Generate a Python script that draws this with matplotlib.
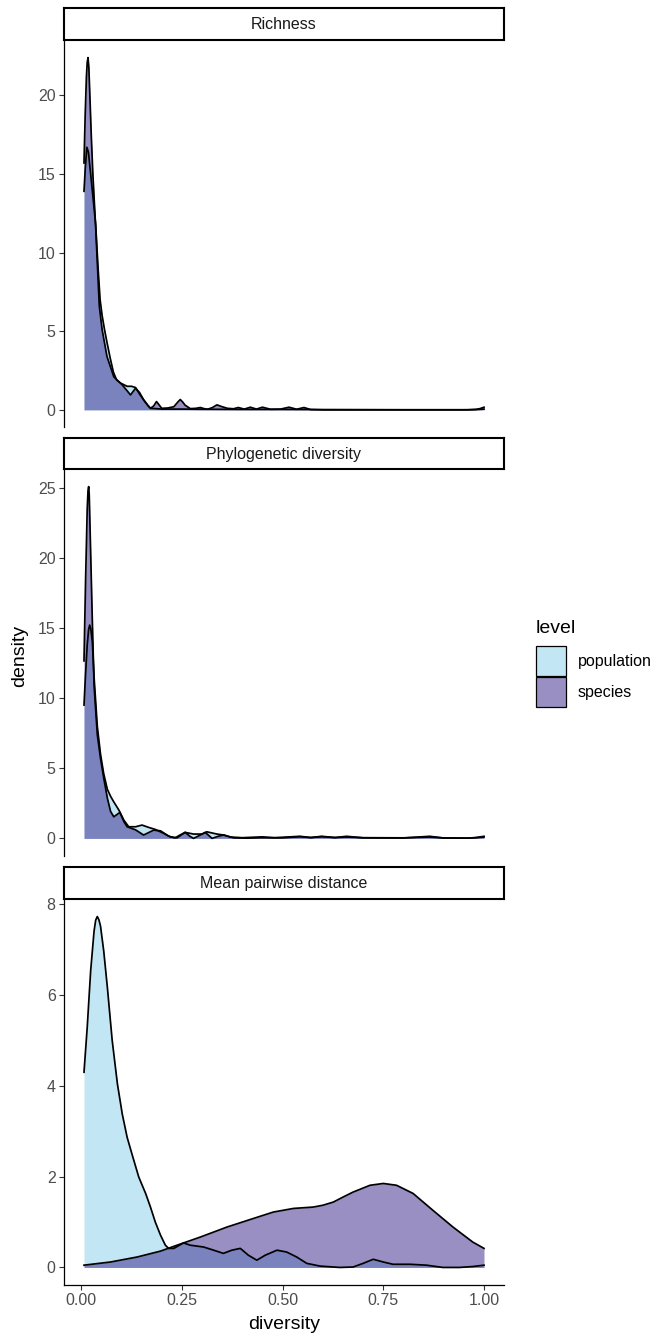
import numpy as np
import matplotlib
matplotlib.use("Agg")
import matplotlib.pyplot as plt
from matplotlib.patches import Patch

plt.rcParams['font.family'] = ['Liberation Sans', 'DejaVu Sans']

# ---- data (diversity vs. density) ----
rich_pop_x = [0.007, 0.010, 0.014, 0.018, 0.0235, 0.029, 0.036, 0.042, 0.047, 0.052, 0.058,
              0.064, 0.072, 0.080, 0.088, 0.098, 0.114, 0.125, 0.135, 0.145, 0.155, 0.165,
              0.172, 0.185, 0.20, 0.25, 0.30, 0.40, 0.50, 0.60, 0.80, 0.95, 0.98, 1.0]
rich_pop_y = [13.9, 15.3, 16.7, 16.4, 15.0, 13.6, 11.8, 9.0, 7.0, 6.0, 5.1,
              4.3, 3.3, 2.4, 1.9, 1.7, 1.5, 1.5, 1.42, 1.0, 0.64, 0.3,
              0.1, 0.08, 0.05, 0.05, 0.04, 0.03, 0.03, 0.02, 0.01, 0.01, 0.02, 0.05]

rich_sp_x = [0.007, 0.010, 0.013, 0.015, 0.017, 0.019, 0.021, 0.025, 0.029, 0.036, 0.045,
             0.052, 0.064, 0.081, 0.102, 0.1225, 0.135, 0.145, 0.155, 0.165, 0.172, 0.180,
             0.187, 0.194, 0.200, 0.215, 0.230, 0.240, 0.246, 0.252, 0.258, 0.271, 0.285,
             0.296, 0.305, 0.314, 0.326, 0.337, 0.350, 0.363, 0.378, 0.390, 0.405, 0.420,
             0.435, 0.450, 0.470, 0.495, 0.516, 0.535, 0.553, 0.570, 0.60, 0.70, 0.80, 0.90,
             0.96, 0.98, 0.99, 1.0]
rich_sp_y = [15.7, 18.8, 21.2, 22.1, 22.4, 21.8, 20.4, 17.5, 15.0, 11.6, 6.6,
             5.1, 3.4, 2.1, 1.59, 0.95, 1.38, 1.1, 0.64, 0.3, 0.1, 0.25,
             0.53, 0.3, 0.1, 0.12, 0.2, 0.5, 0.66, 0.5, 0.3, 0.08, 0.1,
             0.15, 0.08, 0.04, 0.15, 0.32, 0.2, 0.1, 0.07, 0.15, 0.05, 0.17,
             0.05, 0.17, 0.04, 0.05, 0.17, 0.04, 0.15, 0.02, 0.0, 0.0, 0.0, 0.0,
             0.0, 0.03, 0.08, 0.17]

phylo_pop_x = [0.007, 0.011, 0.015, 0.0185, 0.0211, 0.024, 0.0277, 0.032, 0.040, 0.048, 0.056,
               0.065, 0.073, 0.081, 0.094, 0.106, 0.118, 0.135, 0.151, 0.168, 0.184, 0.205,
               0.221, 0.238, 0.258, 0.279, 0.300, 0.312, 0.337, 0.354, 0.378, 0.411, 0.45,
               0.50, 0.543, 0.57, 0.597, 0.63, 0.659, 0.70, 0.80, 0.865, 0.90, 0.96, 0.98, 1.0]
phylo_pop_y = [9.5, 11.8, 13.8, 14.9, 15.2, 14.9, 14.0, 11.5, 8.0, 6.0, 4.6,
               3.5, 3.0, 2.6, 2.0, 1.3, 0.83, 0.83, 0.95, 0.78, 0.64, 0.36,
               0.11, 0.04, 0.43, 0.31, 0.31, 0.47, 0.31, 0.24, 0.04, 0.02, 0.05,
               0.04, 0.12, 0.06, 0.12, 0.06, 0.1, 0.05, 0.04, 0.1, 0.03, 0.02, 0.05, 0.1]

phylo_sp_x = [0.007, 0.011, 0.015, 0.017, 0.0186, 0.020, 0.0235, 0.0277, 0.032, 0.040, 0.048,
              0.056, 0.065, 0.073, 0.081, 0.096, 0.106, 0.114, 0.135, 0.155, 0.170, 0.180,
              0.197, 0.217, 0.233, 0.246, 0.258, 0.270, 0.279, 0.293, 0.308, 0.325, 0.340,
              0.354, 0.370, 0.40, 0.449, 0.48, 0.543, 0.57, 0.597, 0.63, 0.659, 0.70, 0.80,
              0.865, 0.90, 0.96, 0.98, 1.0]
phylo_sp_y = [12.65, 18.5, 23.5, 24.8, 25.07, 24.5, 20.4, 15.5, 10.9, 7.4, 5.7,
              4.3, 2.87, 1.92, 1.54, 1.85, 1.2, 0.83, 0.61, 0.24, 0.45, 0.59,
              0.54, 0.16, 0.04, 0.25, 0.43, 0.15, 0.0, 0.2, 0.43, 0.0, 0.15,
              0.24, 0.1, 0.05, 0.11, 0.05, 0.15, 0.06, 0.15, 0.06, 0.15, 0.04, 0.03,
              0.15, 0.03, 0.02, 0.06, 0.15]

mpd_pop_x = [0.007, 0.015, 0.0235, 0.032, 0.036, 0.040, 0.044, 0.048, 0.056, 0.065, 0.077,
             0.090, 0.102, 0.114, 0.127, 0.143, 0.160, 0.172, 0.184, 0.197, 0.209, 0.217,
             0.230, 0.254, 0.271, 0.304, 0.329, 0.353, 0.374, 0.395, 0.415, 0.436, 0.457,
             0.486, 0.510, 0.535, 0.560, 0.593, 0.642, 0.675, 0.700, 0.725, 0.750, 0.774,
             0.816, 0.857, 0.898, 0.939, 0.972, 1.0]
mpd_pop_y = [4.3, 5.29, 6.53, 7.41, 7.65, 7.73, 7.66, 7.52, 6.97, 6.17, 5.0,
             4.04, 3.38, 2.87, 2.47, 1.99, 1.63, 1.33, 1.0, 0.71, 0.49, 0.42,
             0.42, 0.54, 0.49, 0.45, 0.38, 0.31, 0.38, 0.42, 0.27, 0.16, 0.27,
             0.38, 0.34, 0.23, 0.09, 0.03, 0.0, 0.01, 0.09, 0.18, 0.12, 0.07,
             0.07, 0.05, 0.0, 0.0, 0.02, 0.05]

mpd_sp_x = [0.007, 0.073, 0.139, 0.197, 0.238, 0.296, 0.362, 0.428, 0.477, 0.527, 0.576,
            0.600, 0.626, 0.650, 0.675, 0.717, 0.750, 0.783, 0.824, 0.873, 0.923, 0.972, 1.0]
mpd_sp_y = [0.05, 0.12, 0.23, 0.36, 0.49, 0.67, 0.89, 1.08, 1.22, 1.30, 1.33,
            1.37, 1.44, 1.55, 1.66, 1.81, 1.85, 1.81, 1.63, 1.26, 0.89, 0.56, 0.42]

facets = ["Richness", "Phylogenetic diversity", "Mean pairwise distance"]
levels = ["population", "species"]
yticks = [[0, 5, 10, 15, 20], [0, 5, 10, 15, 20, 25], [0, 2, 4, 6, 8]]
xticks = [0.0, 0.25, 0.5, 0.75, 1.0]
xtick_labels = ["0.00", "0.25", "0.50", "0.75", "1.00"]

curves = [
    [(rich_pop_x, rich_pop_y), (rich_sp_x, rich_sp_y)],
    [(phylo_pop_x, phylo_pop_y), (phylo_sp_x, phylo_sp_y)],
    [(mpd_pop_x, mpd_pop_y), (mpd_sp_x, mpd_sp_y)],
]

fills = [(0.529, 0.808, 0.922, 0.5), (0.208, 0.129, 0.537, 0.5)]

W, H = 656, 1336
fig = plt.figure(figsize=(W / 100, H / 100), dpi=100)

# panel rows in pixels: (strip top, panel top, panel bottom)
rows = [(8, 40, 427.5), (438, 469, 856), (867, 899, 1285)]
left, right = 64, 504

all_x = rich_pop_x + rich_sp_x
xlo, xhi = min(all_x), max(all_x)
xpad = 0.05 * (xhi - xlo)

for i, (st, pt, pb) in enumerate(rows):
    ax = fig.add_axes([left / W, 1 - pb / H, (right - left) / W, (pb - pt) / H])
    ymax = 0
    for (x, y), fc in zip(curves[i], fills):
        ax.fill_between(x, y, 0, color=fc, lw=0)
        ax.plot(x, y, color="black", lw=1.25, solid_joinstyle="round")
        ymax = max(ymax, max(y))
    ax.set_ylim(-0.05 * ymax, ymax * 1.05)
    ax.set_xlim(xlo - xpad, xhi + xpad)
    ax.set_yticks(yticks[i])
    ax.tick_params(axis="both", length=3.8, width=0.8, color="#333333",
                   labelcolor="#4d4d4d", labelsize=11.5, pad=2.2)
    for s in ["top", "right"]:
        ax.spines[s].set_visible(False)
    ax.spines["left"].set_linewidth(0.9)
    if i < 2:
        ax.spines["bottom"].set_visible(False)
        ax.set_xticks([])
    else:
        ax.spines["bottom"].set_linewidth(0.9)
        ax.set_xticks(xticks)
        ax.set_xticklabels(xtick_labels)

    sax = fig.add_axes([left / W, 1 - pt / H, (right - left) / W, (pt - st) / H])
    sax.set_xticks([])
    sax.set_yticks([])
    for s in sax.spines.values():
        s.set_linewidth(1.5)
        s.set_color("black")
    sax.text(0.5, 0.47, facets[i], ha="center", va="center", fontsize=11.5, color="#1a1a1a",
             transform=sax.transAxes)

fig.text(19.5 / W, 1 - 656 / H, "density", rotation=90, ha="center", va="center", fontsize=14)
fig.text(284 / W, 1 - 1329 / H, "diversity", ha="center", va="baseline", fontsize=14)

# legend: title as its own text, keys below
fig.text(536 / W, 1 - 633 / H, "level", ha="left", va="baseline", fontsize=14)
handles = [Patch(facecolor=fc, edgecolor="black", linewidth=0.9) for fc in fills]
leg = fig.legend(handles, levels, loc="upper left", bbox_to_anchor=(536 / W, 1 - 646 / H),
                 frameon=False, fontsize=11.5,
                 handlelength=1.88, handleheight=2.5, handletextpad=0.75,
                 labelspacing=0.06, borderpad=0, borderaxespad=0)

fig.savefig("out.png", dpi=100)
